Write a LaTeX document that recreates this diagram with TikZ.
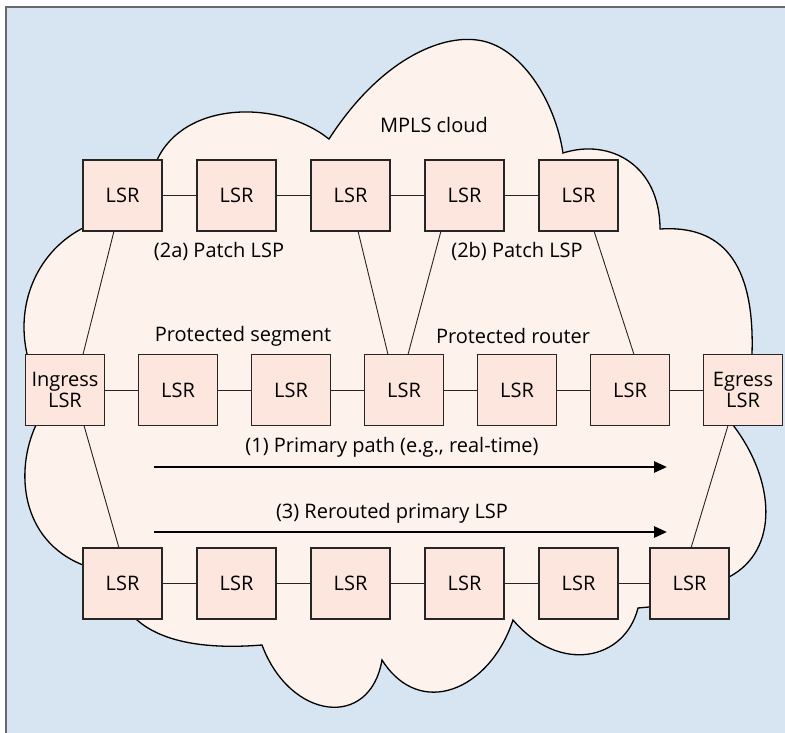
\documentclass[tikz,border=0pt]{standalone}
\usepackage{fontspec}
\setmainfont{Open Sans}
\usetikzlibrary{positioning, arrows.meta}
\definecolor{cloudfill}{RGB}{253,242,236}
\definecolor{lsrfill}{RGB}{252,230,221}
\definecolor{bgblue}{RGB}{215,228,241}
\definecolor{framegray}{RGB}{105,105,105}

\begin{document}
\begin{tikzpicture}[
    x=1pt, y=-1pt,
    node distance=34pt,
    font=\fontsize{20}{21}\selectfont,
    lsr/.style={rectangle, draw=black!85, line width=1.1pt, fill=lsrfill, minimum width=79pt, minimum height=71pt, inner sep=0pt, outer sep=0pt, align=center},
    link/.style={line width=0.9pt, draw=black!85},
    flow/.style={-{Triangle[length=13pt, width=11pt]}, line width=2.6pt},
    label/.style={inner sep=0pt}
  ]

  % Background
  \useasboundingbox (0,0) rectangle (785,732);
  \fill[bgblue] (6,7) rectangle (800,750);
  \draw[framegray, line width=2pt] (6,750) -- (6,7) -- (800,7);

  % Cloud
  \draw[fill=cloudfill, line width=1.3pt]
    (83,565) .. controls (20,540) and (15,470) .. (36,425)
    -- (27,354) .. controls (15,300) and (40,250) .. (83,228)
    -- (157,160) .. controls (185,100) and (280,100) .. (329,139)
    .. controls (380,60) and (440,35) .. (477,40)
    .. controls (520,45) and (555,100) .. (563,153)
    .. controls (610,138) and (660,165) .. (660,229)
    .. controls (720,225) and (755,260) .. (752,354)
    -- (733,425) .. controls (775,480) and (780,550) .. (729,577)
    -- (649,607) -- (638,608)
    .. controls (625,660) and (560,675) .. (513,620)
    .. controls (490,690) and (420,720) .. (382,660)
    .. controls (370,730) and (290,720) .. (262,645)
    .. controls (200,650) and (160,640) .. (137,620)
    -- cycle;

  % Top row
  \node[lsr] (t1) at (122.5,195.5) {LSR};
  \node[lsr, right=35pt of t1] (t2) {LSR};
  \node[lsr, right=35pt of t2] (t3) {LSR};
  \node[lsr, right=35pt of t3] (t4) {LSR};
  \node[lsr, right=35pt of t4] (t5) {LSR};

  % Middle row
  \node[lsr] (ingress) at (65,390) {Ingress\\LSR};
  \node[lsr, right=of ingress] (m2) {LSR};
  \node[lsr, right=of m2] (m3) {LSR};
  \node[lsr, right=of m3] (m4) {LSR};
  \node[lsr, right=of m4] (m5) {LSR};
  \node[lsr, right=of m5] (m6) {LSR};
  \node[lsr, right=of m6] (egress) {Egress\\LSR};

  % Bottom row
  \node[lsr] (b1) at (122.5,583.5) {LSR};
  \node[lsr, right=35pt of b1] (b2) {LSR};
  \node[lsr, right=35pt of b2] (b3) {LSR};
  \node[lsr, right=35pt of b3] (b4) {LSR};
  \node[lsr, right=35pt of b4] (b5) {LSR};
  \node[lsr, right=32pt of b5] (b6) {LSR};

  % Links
  \foreach \a/\b in {t1/t2, t2/t3, t3/t4, t4/t5,
                     ingress/m2, m2/m3, m3/m4, m4/m5, m5/m6, m6/egress,
                     b1/b2, b2/b3, b3/b4, b4/b5, b5/b6}
    \draw[link] (\a) -- (\b);

  \draw[link] ([xshift=-8.5pt]t1.south) -- ([xshift=18pt]ingress.north);
  \draw[link] ([xshift=7.5pt]t3.south) -- ([xshift=-16pt]m4.north);
  \draw[link] ([xshift=-23.5pt]t4.south) -- ([xshift=4pt]m4.north);
  \draw[link] ([xshift=15.5pt]t5.south) -- ([xshift=4pt]m6.north);
  \draw[link] ([xshift=19pt]ingress.south) -- ([xshift=-3.5pt]b1.north);
  \draw[link] ([xshift=-15pt]egress.south) -- ([xshift=1.5pt]b6.north);

  % Labels
  \node[label] (cloudlbl) at (434,125) {MPLS cloud};
  \node[label] (patcha) at (219,251) {(2a) Patch LSP};
  \node[label] (patchb) at (517,251) {(2b) Patch LSP};
  \node[label] (protseg) at (243,336) {Protected segment};
  \node[label] (protrtr) at (513,336) {Protected router};
  \node[label] (primlbl) at (392,447) {(1) Primary path (e.g., real-time)};
  \node[label] (rerlbl) at (392,513) {(3) Rerouted primary LSP};

  % Paths
  \coordinate (pa) at (154,467);
  \coordinate (pb) at (667,467);
  \coordinate (ra) at (154,532);
  \coordinate (rb) at (667,532);
  \draw[flow] (pa) -- (pb);
  \draw[flow] (ra) -- (rb);

\end{tikzpicture}
\end{document}
